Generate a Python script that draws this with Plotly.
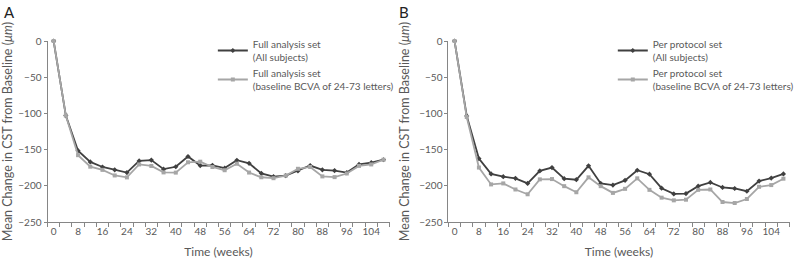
import plotly.graph_objects as go

weeks = list(range(0, 112, 4))  # 0..108

fas_all = [0, -103, -151.5, -167, -174, -178, -181.7, -165.7, -164.5, -177, -173.7, -159.5, -172,
           -171.7, -175.6, -164.7, -169, -182.8, -187.4, -186, -179.5, -172, -178, -179, -181.7,
           -170.5, -168, -164]
fas_sub = [0, -103, -157.7, -173.6, -178, -185.7, -188.4, -170.5, -172.6, -181.5, -181.8, -167.5, -166.7,
           -174, -178.5, -169.5, -181.7, -188.2, -189.5, -185.9, -176.5, -174, -187, -188, -183,
           -172.5, -170.5, -164]
pps_all = [0, -103.5, -162.4, -183.6, -187.4, -189.7, -196.7, -179.4, -174.8, -190.2, -191.6, -172.4,
           -196.7, -199, -192.5, -178.5, -184, -203.3, -211.2, -210.7, -200.5, -195.3, -202.3, -203.7,
           -207.5, -193.5, -189.3, -183.6]
pps_sub = [0, -105, -174.8, -198.1, -196.7, -205.1, -211.7, -191.1, -190.7, -200.5, -208.9, -188.3,
           -200.5, -209.8, -204.2, -189.7, -205.6, -216.4, -220.1, -219.2, -205.6, -205.1, -222.4,
           -223.8, -218.2, -201.4, -199, -190.2]

x_labels = list(range(0, 108, 8))
y_ticks = [0, -50, -100, -150, -200, -250]

names_a = ["Full analysis set<br>(All subjects)", "Full analysis set<br>(baseline BCVA of 24-73 letters)"]
names_b = ["Per protocol set<br>(All subjects)", "Per protocol set<br>(baseline BCVA of 24-73 letters)"]

DARK = "#404040"
LIGHT = "#a6a6a6"
AX = "#868686"
TXT = "#595959"
FONT = "Lato"

W, H = 799, 261

fig = go.Figure()

def add(xa, ya, y, name, color, legend, symbol):
    fig.add_trace(go.Scatter(
        x=weeks, y=y, name=name, mode="lines+markers",
        line=dict(color=color, width=1.8),
        marker=dict(color=color, size=4, symbol=symbol),
        xaxis=xa, yaxis=ya, legend=legend, cliponaxis=False,
    ))

add("x", "y", fas_all, names_a[0], DARK, "legend", "diamond")
add("x", "y", fas_sub, names_a[1], LIGHT, "legend", "square")
add("x2", "y2", pps_all, names_b[0], DARK, "legend2", "diamond")
add("x2", "y2", pps_sub, names_b[1], LIGHT, "legend2", "square")

def px(v):
    return v / W

def py(v):
    return 1 - v / H

ydom = [py(222), py(41)]
xdomA = [px(48), px(393.5)]
xdomB = [px(453), px(797.5)]

xcommon = dict(
    range=[-2, 110], tickmode="array", tickvals=x_labels, ticks="",
    showline=True, linecolor=AX, linewidth=1, showgrid=False, zeroline=False,
    tickfont=dict(family=FONT, size=10, color=TXT),
    minor=dict(tickmode="linear", tick0=-2, dtick=4, ticks="outside", ticklen=4,
               tickcolor=AX, showgrid=False),
    title=dict(text="Time (weeks)", font=dict(family=FONT, size=12, color=TXT), standoff=11),
    automargin=False,
)
ycommon = dict(
    range=[-250, 0], tickmode="array", tickvals=y_ticks, ticks="outside", ticklen=3,
    tickcolor=AX, showline=True, linecolor=AX, linewidth=1, showgrid=False, zeroline=False,
    tickfont=dict(family=FONT, size=10, color=TXT),
    title=dict(text="Mean Change in CST from Baseline (<i>μm</i>)",
               font=dict(family=FONT, size=12.5, color=TXT), standoff=6),
    automargin=False,
)

legend_font = dict(family=FONT, size=10, color=TXT)

fig.update_layout(
    width=W, height=H,
    margin=dict(l=0, r=0, t=0, b=0),
    paper_bgcolor="white", plot_bgcolor="white",
    xaxis=dict(domain=xdomA, anchor="y", **xcommon),
    yaxis=dict(domain=ydom, anchor="x", **ycommon),
    xaxis2=dict(domain=xdomB, anchor="y2", **xcommon),
    yaxis2=dict(domain=ydom, anchor="x2", **ycommon),
    legend=dict(x=px(215), y=py(31), xanchor="left", yanchor="top",
                font=legend_font, bgcolor="rgba(0,0,0,0)",
                itemwidth=30, tracegroupgap=4),
    legend2=dict(x=px(619), y=py(31), xanchor="left", yanchor="top",
                 font=legend_font, bgcolor="rgba(0,0,0,0)",
                 itemwidth=30, tracegroupgap=4),
    showlegend=True,
    annotations=[
        dict(text="A", x=px(2), y=py(1), xref="paper", yref="paper", xanchor="left", yanchor="top",
             showarrow=False, font=dict(family=FONT, size=15, color="#222222")),
        dict(text="B", x=px(401), y=py(1), xref="paper", yref="paper", xanchor="left", yanchor="top",
             showarrow=False, font=dict(family=FONT, size=15, color="#222222")),
    ],
)

fig.write_html("out.html", config={"displayModeBar": False},
               post_script="document.body.style.margin='0';")
